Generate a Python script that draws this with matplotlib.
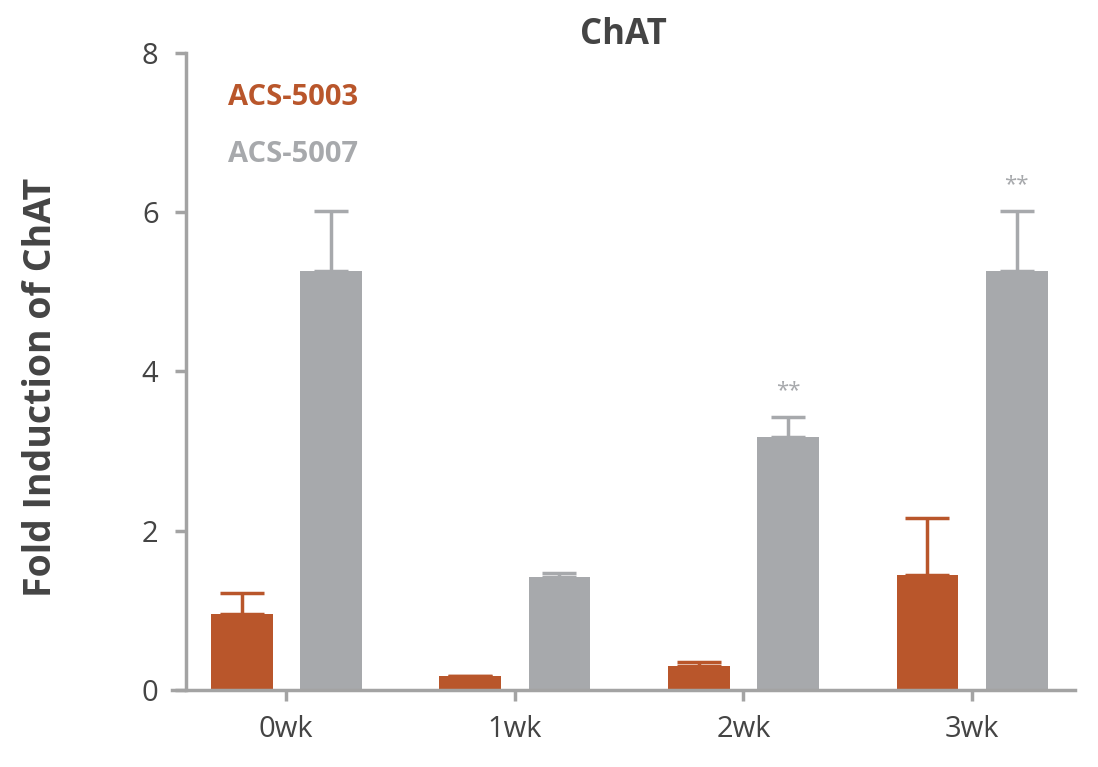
import numpy as np
import matplotlib.pyplot as plt

weeks = ["0wk", "1wk", "2wk", "3wk"]
acs5003 = [0.96, 0.17, 0.3, 1.44]
acs5003_err = [0.26, 0.0, 0.05, 0.72]
acs5007 = [5.26, 1.42, 3.18, 5.26]
acs5007_err = [0.76, 0.05, 0.25, 0.76]
stars = ["", "", "**", "**"]

ORANGE = "#B9562B"
GREY = "#A7A9AC"
AXIS = "#A3A3A3"
TEXT = "#444444"

plt.rcParams["font.family"] = "Open Sans"

fig = plt.figure(figsize=(10.98, 7.67), dpi=100)
ax = fig.add_axes([0.1566, 0.1004, 0.8224, 0.8305])

x = np.arange(len(weeks))
w = 0.27
off = 0.195
ax.bar(x - off, acs5003, w, color=ORANGE, zorder=2)
ax.bar(x + off, acs5007, w, color=GREY, zorder=2)
ax.errorbar(x - off, acs5003, yerr=[np.zeros(4), acs5003_err], fmt="none",
            ecolor=ORANGE, elinewidth=2.5, capsize=16, capthick=2.5, zorder=1)
ax.errorbar(x + off, acs5007, yerr=[np.zeros(4), acs5007_err], fmt="none",
            ecolor=GREY, elinewidth=2.5, capsize=12, capthick=2.5, zorder=1)
for xi, v, e, s in zip(x, acs5007, acs5007_err, stars):
    if s:
        ax.text(xi + off, v + e + 0.2, s, color=GREY, ha="center", va="bottom", fontsize=16)

ax.set_xlim(-0.5, 3.45)
ax.set_ylim(0, 8)
ax.set_xticks(x)
ax.set_xticklabels(weeks)
ax.set_yticks([0, 2, 4, 6, 8])
for sp in ["top", "right"]:
    ax.spines[sp].set_visible(False)
ax.spines["left"].set_position(("data", -0.437))
for sp in ["left", "bottom"]:
    ax.spines[sp].set_color(AXIS)
    ax.spines[sp].set_linewidth(2.5)
ax.tick_params(colors=AXIS, width=2.5, length=8, labelsize=21, labelcolor=TEXT)
ax.tick_params(axis="x", pad=10)
ax.tick_params(axis="y", pad=12)

ax.set_title("ChAT", fontsize=25, fontweight="bold", color=TEXT, pad=6)
fig.text(0.037, 0.495, "Fold Induction of ChAT", rotation=90, ha="center", va="center",
         fontsize=27, fontweight="bold", color=TEXT)
ax.text(0.062, 0.93, "ACS-5003", transform=ax.transAxes, color=ORANGE,
        fontsize=21, fontweight="bold", va="center")
ax.text(0.062, 0.84, "ACS-5007", transform=ax.transAxes, color=GREY,
        fontsize=21, fontweight="bold", va="center")

fig.savefig("out.png", dpi=100)
